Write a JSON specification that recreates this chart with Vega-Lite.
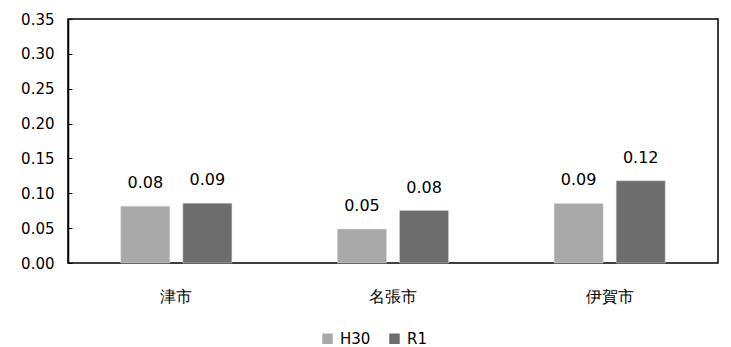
{
  "$schema": "https://vega.github.io/schema/vega-lite/v6.json",
  "width": 650,
  "height": 244,
  "autosize": {"type": "none"},
  "padding": {"left": 68, "top": 19, "right": 13, "bottom": 84},
  "background": "white",
  "config": {
    "font": "DejaVu Sans",
    "view": {"stroke": "#000000", "strokeWidth": 1.5},
    "axis": {"labelFont": "DejaVu Sans", "labelFontSize": 15, "labelColor": "#000000"}
  },
  "data": {
    "values": [
      {"city": "津市", "year": "H30", "value": 0.0814},
      {"city": "津市", "year": "R1", "value": 0.0858},
      {"city": "名張市", "year": "H30", "value": 0.0486},
      {"city": "名張市", "year": "R1", "value": 0.0752},
      {"city": "伊賀市", "year": "H30", "value": 0.0855},
      {"city": "伊賀市", "year": "R1", "value": 0.118}
    ]
  },
  "encoding": {
    "x": {
      "field": "city", "type": "nominal", "sort": ["津市", "名張市", "伊賀市"],
      "scale": {"paddingInner": 0, "paddingOuter": 0},
      "axis": {"title": null, "labelAngle": 0, "ticks": false, "domain": false, "labelPadding": 25, "labelFontSize": 16}
    },
    "xOffset": {
      "field": "year", "type": "nominal", "sort": ["H30", "R1"],
      "scale": {"paddingInner": 0.21, "paddingOuter": 0.85}
    },
    "y": {
      "field": "value", "type": "quantitative",
      "scale": {"domain": [0, 0.35], "nice": false},
      "axis": {
        "title": null, "values": [0, 0.05, 0.1, 0.15, 0.2, 0.25, 0.3, 0.35], "format": ".2f",
        "grid": false, "domainColor": "#000000", "domainWidth": 1.5,
        "tickColor": "#000000", "tickSize": -4, "labelPadding": 18
      }
    }
  },
  "layer": [
    {
      "mark": {"type": "bar", "stroke": "#d9d9d9", "strokeWidth": 0.5},
      "encoding": {
        "color": {
          "field": "year", "type": "nominal", "sort": ["H30", "R1"],
          "scale": {"domain": ["H30", "R1"], "range": ["#a9a9a9", "#6d6d6d"]},
          "legend": {
            "title": null, "orient": "none", "direction": "horizontal",
            "legendX": 252, "legendY": 312, "symbolType": "square", "symbolSize": 110,
            "symbolStrokeWidth": 0, "labelFontSize": 15, "labelFont": "DejaVu Sans",
            "labelColor": "#000000", "columnPadding": 16, "labelOffset": 5
          }
        }
      }
    },
    {
      "mark": {"type": "text", "dy": -23, "fontSize": 16, "font": "DejaVu Sans", "color": "#000000"},
      "encoding": {"text": {"field": "value", "type": "quantitative", "format": ".2f"}}
    }
  ]
}
